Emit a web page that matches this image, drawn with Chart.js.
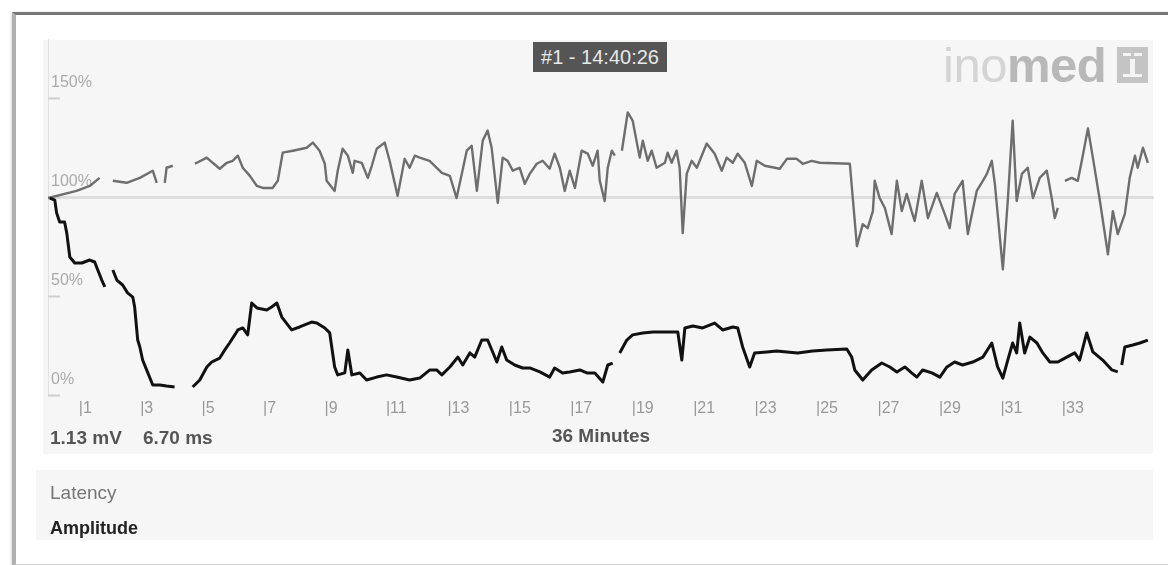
<!DOCTYPE html>
<html>
<head>
<meta charset="utf-8">
<script src="https://cdn.jsdelivr.net/npm/chart.js@4.4.1/dist/chart.umd.min.js"></script>
<style>
body { margin:0; width:1168px; height:565px; background:#fff; position:relative; overflow:hidden; font-family:"Liberation Sans", Arial, sans-serif; }
.card { position:absolute; left:12px; top:12px; width:1160px; height:549px; border-top:3px solid #777; border-left:4px solid #b0b0b0; border-bottom:2px solid #d0d0d0; box-shadow:0 1px 3px rgba(0,0,0,.25); }
.panel { position:absolute; background:#f6f6f6; }
#wrap { position:absolute; left:0; top:0; width:1168px; height:565px; }
.txt { position:absolute; white-space:nowrap; }
#stamp { position:absolute; left:533px; top:42px; width:134px; height:30px; background:#555; color:#e8e8e8; font-size:20px; line-height:30px; text-align:center; }
#logo { position:absolute; left:943px; top:41px; font-size:49px; line-height:49px; letter-spacing:-0.5px; }
#logo .a { color:#d4d4d4; }
#logo .b { color:#b8b8b8; font-weight:bold; }
#icon { position:absolute; left:1117px; top:47px; width:31px; height:36px; background:#c4c4c4; }
#icon div { position:absolute; background:#f4f4f4; }
</style>
</head>
<body>
<div class="card"></div>
<div class="panel" style="left:43px;top:40px;width:1110px;height:414px;"></div>
<div class="panel" style="left:36px;top:470px;width:1117px;height:70px;"></div>
<div id="logo"><span class="a">ino</span><span class="b">med</span></div>
<div id="icon"><div style="left:6px;top:6px;width:8px;height:3px"></div><div style="left:17px;top:6px;width:8px;height:3px"></div><div style="left:13px;top:12px;width:5px;height:18px"></div><div style="left:6px;top:27px;width:8px;height:3px"></div><div style="left:17px;top:27px;width:8px;height:3px"></div></div>
<div id="wrap"><canvas id="myChart"></canvas></div>
<div id="stamp">#1 - 14:40:26</div>
<div class="txt" style="left:50px;top:426px;font-size:19px;line-height:23px;font-weight:bold;color:#555;">1.13 mV&nbsp;&nbsp;&nbsp; 6.70 ms</div>
<div class="txt" style="left:50px;top:481px;font-size:19px;line-height:23px;color:#777;">Latency</div>
<div class="txt" style="left:50px;top:517px;font-size:18px;line-height:23px;font-weight:bold;color:#222;">Amplitude</div>
<script>
// minutes since start, percent of baseline; null = no signal
const latencyMin = [0.00, 0.93, 1.36, 1.68, 1.90,
    2.11, 2.56, 2.99, 3.41, 3.54, 3.67,
    3.80, 3.86, 4.06, 4.40,
    4.78, 5.17, 5.36, 5.59, 5.82, 6.01, 6.18, 6.34, 6.57, 6.80,
    6.99, 7.31, 7.48, 7.64, 7.97, 8.42, 8.62, 8.84, 9.01, 9.07,
    9.33, 9.43, 9.59, 9.76, 9.92, 9.98, 10.21, 10.41, 10.54, 10.70,
    10.96, 11.12, 11.38, 11.61, 11.77, 11.94, 12.10, 12.42, 12.82, 13.08,
    13.30, 13.63, 13.79, 13.96, 14.15, 14.31, 14.44, 14.64, 14.80, 14.96,
    15.13, 15.35, 15.52, 15.68, 15.91, 16.10, 16.33, 16.49, 16.66, 16.82,
    16.98, 17.15, 17.37, 17.57, 17.73, 17.89, 17.96, 18.12, 18.22, 18.35,
    18.45, 18.56,
    18.68, 18.87, 19.03, 19.26, 19.36, 19.52, 19.65, 19.81, 20.08, 20.17,
    20.30, 20.46, 20.56, 20.66, 20.79, 20.95, 21.12, 21.44, 21.70, 21.93,
    22.09, 22.29, 22.45, 22.68, 22.91, 23.07, 23.33, 23.82, 24.05, 24.37,
    24.57, 24.86, 25.12, 26.10, 26.33, 26.52, 26.68, 26.85, 26.91, 27.07,
    27.24, 27.46, 27.63, 27.79, 27.95, 28.11, 28.21, 28.44, 28.64, 28.93,
    29.19, 29.35, 29.51, 29.77, 29.94, 30.23, 30.39, 30.56, 30.72, 30.82,
    31.08, 31.24, 31.40, 31.53, 31.70, 31.89, 32.06, 32.28, 32.51, 32.67,
    32.77, 32.87, 32.98,
    33.10, 33.32, 33.52, 33.65, 33.85, 34.01, 34.24, 34.50, 34.66, 34.82,
    35.05, 35.21, 35.38, 35.47, 35.64, 35.80];
const latencyPct = [99.7, 103.3, 105.8, 109.9, null,
    108.4, 107.4, 109.9, 113.5, 107.4, null,
    107.4, 115.0, 116.0, null,
    117.0, 120.1, 117.5, 114.5, 117.5, 118.5, 121.1, 115.0, 110.9, 105.8,
    104.8, 104.8, 108.4, 122.6, 123.6, 125.1, 127.7, 123.6, 117.0, 108.4,
    103.3, 113.5, 124.6, 121.1, 112.4, 118.5, 117.5, 109.9, 116.0, 124.6,
    127.7, 118.5, 100.8, 119.5, 115.0, 121.1, 120.1, 118.5, 112.4, 110.9,
    99.7, 123.6, 126.1, 103.3, 128.7, 133.8, 125.1, 97.2, 120.1, 118.5,
    113.5, 115.0, 106.9, 111.9, 117.0, 118.5, 114.5, 122.1, 115.0, 103.3,
    113.5, 104.8, 123.6, 122.1, 116.0, 123.6, 108.4, 98.2, 115.0, 123.6,
    121.1, null,
    123.6, 142.9, 138.8, 120.1, 128.7, 118.5, 123.6, 115.0, 117.5, 122.6,
    117.5, 123.6, 115.0, 82.0, 111.9, 118.5, 115.0, 127.2, 122.1, 113.5,
    120.1, 117.5, 122.1, 117.5, 105.8, 118.5, 116.0, 114.5, 119.5, 119.5,
    117.0, 118.5, 117.5, 117.0, 75.4, 86.5, 84.5, 93.1, 108.4, 99.7,
    94.7, 81.5, 108.4, 93.1, 101.8, 93.1, 88.1, 108.4, 89.6, 102.3,
    91.6, 84.5, 101.8, 108.4, 81.5, 103.3, 107.4, 111.9, 118.5, 106.9,
    63.7, 98.2, 138.8, 98.2, 111.9, 115.0, 99.7, 109.9, 113.5, 99.7,
    89.6, 94.7, null,
    108.4, 109.9, 108.4, 118.5, 134.8, 120.1, 98.2, 71.3, 93.1, 81.5,
    91.6, 109.9, 121.1, 115.0, 125.1, 117.5];

const amplitudeMin = [0.06, 0.22, 0.28, 0.38, 0.54, 0.61, 0.71, 0.87, 1.10, 1.36,
    1.52, 1.62, 1.75, 1.85, 1.98,
    2.11, 2.24, 2.43, 2.59, 2.76, 2.82, 2.92, 2.99, 3.08, 3.25,
    3.41, 3.64, 3.86, 4.12, 4.40,
    4.71, 4.94, 5.17, 5.33, 5.59, 5.75, 5.91, 6.08, 6.18, 6.34,
    6.50, 6.63, 6.80, 7.12, 7.28, 7.45, 7.61, 7.93, 8.19, 8.58,
    8.75, 9.01, 9.17, 9.33, 9.43, 9.66, 9.76, 9.89, 10.15, 10.37,
    10.70, 11.02, 11.35, 11.77, 12.10, 12.43, 12.65, 12.82, 13.08, 13.34,
    13.50, 13.73, 13.89, 14.12, 14.31, 14.61, 14.77, 14.93, 15.19, 15.45,
    15.68, 16.01, 16.33, 16.49, 16.75, 16.98, 17.31, 17.54, 17.80, 18.06,
    18.22, 18.38, 18.50,
    18.61, 18.84, 19.03, 19.36, 19.69, 20.14, 20.50, 20.63, 20.73, 20.99,
    21.31, 21.70, 21.96, 22.29, 22.45, 22.61, 22.84, 23.00, 23.40, 23.72,
    24.05, 24.40, 24.89, 25.35, 26.00, 26.16, 26.26, 26.52, 26.81, 27.14,
    27.40, 27.63, 27.89, 28.11, 28.28, 28.47, 28.77, 29.03, 29.26, 29.51,
    29.77, 30.10, 30.43, 30.72, 30.91, 31.08, 31.24, 31.40, 31.53, 31.63,
    31.79, 31.96, 32.19, 32.38, 32.61, 32.87, 33.16, 33.42, 33.58, 33.81,
    34.01, 34.33, 34.63, 34.82, 34.88,
    34.95, 35.05, 35.31, 35.54, 35.80];
const amplitudePct = [99.7, 98.7, 92.2, 87.6, 87.6, 82.1, 69.9, 66.9, 66.9, 68.4,
    67.4, 63.4, 58.3, 54.8, null,
    63.4, 58.3, 55.8, 51.8, 49.7, 44.7, 28.0, 24.5, 17.9, 11.4,
    5.3, 5.3, 4.8, 4.3, null,
    4.3, 7.8, 14.4, 16.9, 18.9, 22.9, 26.5, 30.6, 33.1, 34.1,
    30.6, 46.7, 44.2, 43.2, 44.7, 46.7, 39.6, 33.1, 34.6, 37.1,
    36.6, 34.1, 31.6, 14.4, 10.4, 11.4, 23.0, 10.4, 11.4, 7.8,
    9.3, 10.4, 9.3, 7.8, 8.8, 12.9, 12.9, 10.4, 14.4, 19.4,
    15.4, 21.5, 19.4, 28.0, 28.0, 16.9, 24.5, 17.9, 15.4, 13.9,
    13.9, 11.9, 9.3, 13.9, 11.4, 11.9, 12.9, 11.4, 11.4, 6.8,
    15.4, 16.4, null,
    21.5, 28.0, 30.6, 31.6, 32.1, 32.1, 32.1, 17.9, 34.1, 35.1,
    34.1, 36.6, 33.1, 34.6, 34.1, 24.5, 14.4, 21.5, 22.0, 22.5,
    22.0, 21.5, 22.5, 23.0, 23.5, 19.4, 12.9, 7.8, 12.9, 16.4,
    14.4, 11.9, 14.4, 11.4, 9.3, 12.9, 11.4, 9.3, 14.4, 16.9,
    15.4, 16.9, 19.4, 26.5, 14.4, 8.8, 17.9, 26.5, 21.5, 36.6,
    21.5, 29.5, 26.5, 21.5, 16.9, 16.9, 19.4, 21.5, 17.9, 31.6,
    22.0, 17.9, 12.9, 11.9, null,
    15.4, 24.5, 25.5, 26.5, 28.0];

const xTicks = [1, 3, 5, 7, 9, 11, 13, 15, 17, 19, 21, 23, 25, 27, 29, 31, 33];
const yTicks = [0, 50, 100, 150];

function pairs(xs, ys) {
    return xs.map((m, i) => ({ x: m, y: ys[i] }));
}

// short marks at the left edge for each % tick
const tickMarks = {
    id: 'tickMarks',
    beforeDatasetsDraw(chart) {
        const { ctx, chartArea, scales } = chart;
        ctx.save();
        ctx.strokeStyle = '#cfcfcf';
        ctx.lineWidth = 2;
        yTicks.forEach(v => {
            const py = scales.y.getPixelForValue(v);
            ctx.beginPath();
            ctx.moveTo(chartArea.left, py);
            ctx.lineTo(chartArea.left + 12, py);
            ctx.stroke();
        });
        ctx.restore();
    }
};

const data = {
    datasets: [{
        label: 'Amplitude',
        data: pairs(amplitudeMin, amplitudePct),
        borderColor: '#111',
        borderWidth: 3,
        borderJoinStyle: 'round',
        pointRadius: 0,
        tension: 0,
        spanGaps: false
    }, {
        label: 'Latency',
        data: pairs(latencyMin, latencyPct),
        borderColor: '#6e6e6e',
        borderWidth: 2.4,
        borderJoinStyle: 'round',
        pointRadius: 0,
        tension: 0,
        spanGaps: false
    }]
};

const config = {
    type: 'line',
    data: data,
    options: {
        responsive: true,
        maintainAspectRatio: false,
        animation: false,
        layout: { padding: { left: 48, right: 14, top: 39, bottom: 111.5 } },
        scales: {
            x: {
                type: 'linear',
                min: 0,
                max: 36,
                afterBuildTicks: s => { s.ticks = xTicks.map(v => ({ value: v })); },
                afterFit: s => { s.height = 58; },
                ticks: {
                    callback: v => '|' + v,
                    align: 'start',
                    color: '#999',
                    font: { family: 'Liberation Sans', size: 16 },
                    padding: 3,
                    autoSkip: false,
                    maxRotation: 0
                },
                grid: { display: false, drawTicks: false },
                border: { display: false },
                title: {
                    display: true,
                    text: '36 Minutes',
                    color: '#555',
                    font: { family: 'Liberation Sans', size: 19, weight: 'bold' },
                    padding: { top: 0, bottom: 5 }
                }
            },
            y: {
                min: 0,
                max: 180,
                afterBuildTicks: s => { s.ticks = yTicks.map(v => ({ value: v })); },
                afterFit: s => { s.width = 0; },
                ticks: {
                    mirror: true,
                    labelOffset: -16,
                    padding: 3,
                    color: '#aaa',
                    font: { family: 'Liberation Sans', size: 16 },
                    callback: v => v + '%'
                },
                grid: {
                    color: c => (c.tick && c.tick.value === 100) ? '#dedede' : 'rgba(0,0,0,0)',
                    lineWidth: 3,
                    drawTicks: false
                },
                border: { display: true, color: '#e2e2e2', width: 1 }
            }
        },
        plugins: {
            legend: { display: false },
            tooltip: { enabled: false }
        }
    },
    plugins: [tickMarks]
};

const myChart = new Chart(document.getElementById('myChart'), config);
</script>
</body>
</html>
